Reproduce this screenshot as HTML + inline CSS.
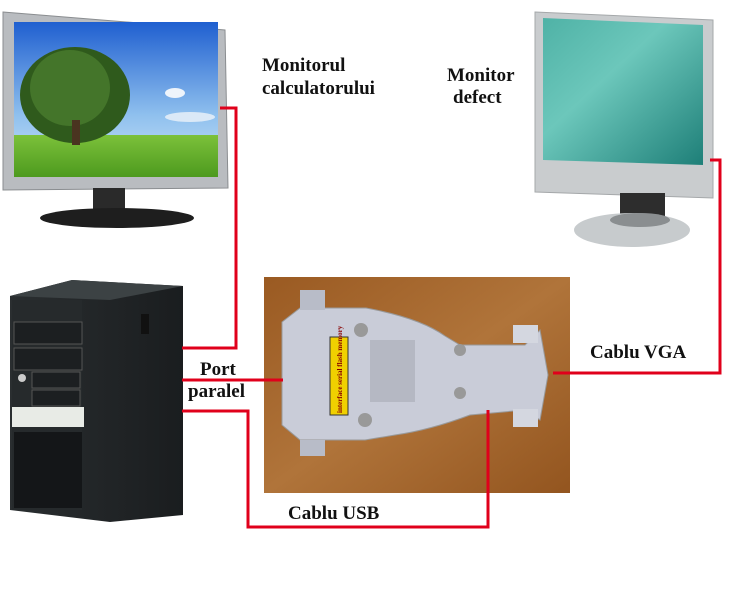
<!DOCTYPE html>
<html><head><meta charset="utf-8"><style>
html,body{margin:0;padding:0;background:#fff;width:739px;height:600px;overflow:hidden}
svg{display:block}
text{font-family:"Liberation Serif",serif;font-weight:bold;font-size:19px;fill:#111}
</style></head><body>
<svg width="739" height="600" viewBox="0 0 739 600" xmlns="http://www.w3.org/2000/svg">
<defs>
<linearGradient id="sky" x1="0" y1="0" x2="0" y2="1"><stop offset="0" stop-color="#1f5fd0"/><stop offset="0.6" stop-color="#8fc0ee"/><stop offset="1" stop-color="#cfe6f8"/></linearGradient>
<linearGradient id="grass" x1="0" y1="0" x2="0" y2="1"><stop offset="0" stop-color="#7cc13a"/><stop offset="1" stop-color="#4d9a1e"/></linearGradient>
<linearGradient id="teal" x1="0" y1="0" x2="1" y2="1"><stop offset="0" stop-color="#4fb2a6"/><stop offset="0.4" stop-color="#6cc7bb"/><stop offset="1" stop-color="#1e7f78"/></linearGradient>
<linearGradient id="wood" x1="0" y1="0" x2="1" y2="1"><stop offset="0" stop-color="#9a5a22"/><stop offset="0.5" stop-color="#b0743a"/><stop offset="1" stop-color="#93551f"/></linearGradient>
<linearGradient id="tower" x1="0" y1="0" x2="1" y2="0"><stop offset="0" stop-color="#2a2e30"/><stop offset="1" stop-color="#1a1d1f"/></linearGradient>
</defs>
<polygon points="3,12 225,30 228,188 3,190" fill="#b9bcc0" stroke="#8a8d90"/>
<rect x="14" y="22" width="204" height="155" fill="url(#sky)"/>
<rect x="14" y="135" width="204" height="42" fill="url(#grass)"/>
<ellipse cx="75" cy="95" rx="55" ry="48" fill="#2f5a1c"/>
<ellipse cx="70" cy="88" rx="40" ry="38" fill="#44752a"/>
<rect x="72" y="120" width="8" height="25" fill="#4a3420"/>
<ellipse cx="175" cy="93" rx="10" ry="5" fill="#eef4fb"/>
<ellipse cx="190" cy="117" rx="25" ry="5" fill="#dbe9f7"/>
<rect x="93" y="188" width="32" height="22" fill="#2a2a2a"/>
<ellipse cx="117" cy="218" rx="77" ry="10" fill="#1e1e1e"/>
<polygon points="535,12 713,20 713,198 535,192" fill="#c9ccce" stroke="#a5a8aa"/>
<polygon points="543,18 703,25 703,165 543,160" fill="url(#teal)"/>
<rect x="620" y="193" width="45" height="30" fill="#2d2d2d"/>
<ellipse cx="632" cy="230" rx="58" ry="17" fill="#c7cbcd"/>
<ellipse cx="640" cy="220" rx="30" ry="7" fill="#8a8e90"/>
<polygon points="10,296 72,280 183,286 183,515 110,522 10,510" fill="url(#tower)"/>
<polygon points="10,296 72,280 183,286 110,300" fill="#3c4244"/>
<rect x="12" y="300" width="70" height="210" fill="#262a2c"/>
<rect x="14" y="322" width="68" height="22" fill="#1c1f21" stroke="#555"/>
<rect x="14" y="348" width="68" height="22" fill="#1c1f21" stroke="#555"/>
<rect x="32" y="372" width="48" height="16" fill="#1c1f21" stroke="#555"/>
<rect x="32" y="390" width="48" height="16" fill="#1c1f21" stroke="#555"/>
<circle cx="22" cy="378" r="4" fill="#ccc"/>
<rect x="12" y="407" width="72" height="20" fill="#e8ebe6"/>
<rect x="14" y="432" width="68" height="76" fill="#141618"/>
<rect x="141" y="314" width="8" height="20" fill="#111"/>
<rect x="264" y="277" width="306" height="216" fill="url(#wood)"/>
<path d="M282,322 L300,308 L366,308 Q420,318 445,336 L460,345 L525,345 L540,330 L548,375 L540,420 L525,410 L470,415 Q430,430 395,435 L365,440 L300,440 L282,425 Z" fill="#c9ccd8" stroke="#999" />
<rect x="300" y="290" width="25" height="20" fill="#b8bcc8"/>
<rect x="300" y="440" width="25" height="16" fill="#b8bcc8"/>
<rect x="513" y="325" width="25" height="18" fill="#d4d7e0"/>
<rect x="513" y="409" width="25" height="18" fill="#d4d7e0"/>
<rect x="330" y="337" width="18" height="78" fill="#f0d000" stroke="#333"/>
<text x="0" y="0" transform="translate(342,413) rotate(-90)" style="font-size:7px;fill:#800">interface serial flash memory</text>
<circle cx="361" cy="330" r="7" fill="#999"/><circle cx="365" cy="420" r="7" fill="#999"/>
<circle cx="460" cy="350" r="6" fill="#999"/><circle cx="460" cy="393" r="6" fill="#999"/>
<rect x="370" y="340" width="45" height="62" fill="#b5b8c3"/>
<g stroke="#e0001b" stroke-width="3" fill="none">
<polyline points="220,108 236,108 236,348 182,348"/>
<polyline points="710,160 720,160 720,373 553,373"/>
<polyline points="182,380 283,380"/>
<polyline points="182,411 248,411 248,527 488,527 488,410"/>
</g>
<text x="262" y="71">Monitorul</text>
<text x="262" y="94">calculatorului</text>
<text x="447" y="81">Monitor</text>
<text x="453" y="103">defect</text>
<text x="200" y="375">Port</text>
<text x="188" y="397">paralel</text>
<text x="590" y="358">Cablu VGA</text>
<text x="288" y="519">Cablu USB</text>
</svg>
</body></html>
